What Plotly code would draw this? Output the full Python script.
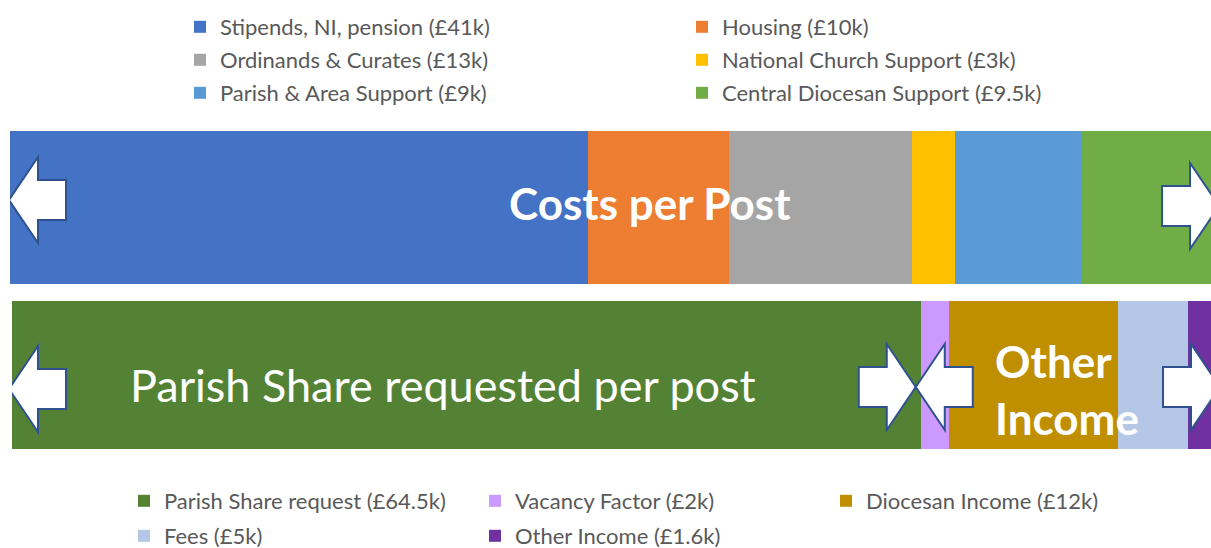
import plotly.graph_objects as go

# ---------------- data ----------------
cost_labels = ["Stipends, NI, pension (£41k)", "Housing (£10k)",
               "Ordinands & Curates (£13k)", "National Church Support (£3k)",
               "Parish & Area Support (£9k)", "Central Diocesan Support (£9.5k)"]
cost_values = [41, 10, 13, 3, 9, 9.5]
cost_colors = ["#4472C4", "#ED7D31", "#A5A5A5", "#FFC000", "#5B9BD5", "#70AD47"]
cost_legends = ["legend", "legend", "legend2", "legend2", "legend3", "legend3"]

income_labels = ["Parish Share request (£64.5k)", "Vacancy Factor (£2k)",
                 "Diocesan Income (£12k)", "Fees (£5k)", "Other Income (£1.6k)"]
income_values = [64.5, 2, 12, 5, 1.6]
income_colors = ["#548235", "#CC99FF", "#BF8F00", "#B4C7E7", "#7030A0"]
income_legends = ["legend4", "legend4", "legend4", "legend5", "legend5"]

FONT = "Lato"
W, H = 1211, 548
ML = 10
PW = W - ML

fig = go.Figure()
for lab, val, col, lg in zip(cost_labels, cost_values, cost_colors, cost_legends):
    fig.add_trace(go.Bar(y=["costs"], x=[val], name=lab, orientation="h",
                         marker=dict(color=col, line=dict(width=0)),
                         xaxis="x", yaxis="y", legend=lg))
for lab, val, col, lg in zip(income_labels, income_values, income_colors, income_legends):
    fig.add_trace(go.Bar(y=["income"], x=[val], name=lab, orientation="h",
                         marker=dict(color=col, line=dict(width=0)),
                         xaxis="x2", yaxis="y2", legend=lg))

scale = 14.1  # px per £k
ax = dict(visible=False, showgrid=False, zeroline=False, fixedrange=True)


def ydom(top_px, bot_px):
    return [1 - bot_px / H, 1 - top_px / H]


# ---------- arrows (decorative) ----------
def arrow_path(tipx, tipy, direction, head=29, length=57, hh=43, sh=20):
    d = direction
    pts = [(tipx, tipy),
           (tipx + d * head, tipy + hh),
           (tipx + d * head, tipy + sh),
           (tipx + d * length, tipy + sh),
           (tipx + d * length, tipy - sh),
           (tipx + d * head, tipy - sh),
           (tipx + d * head, tipy - hh)]
    return "M" + " L".join(f"{x},{y}" for x, y in pts) + " Z"


cost_total = sum(cost_values)
inc_total = sum(income_values)
arrows = [
    ("x", "y", 0, arrow_path(-1, 7.5, 1)),
    ("x", "y", cost_total, arrow_path(3.5, 1.5, -1)),
    ("x2", "y2", 0, arrow_path(-3, -14, 1)),
    ("x2", "y2", income_values[0], arrow_path(-5, -12, -1)),
    ("x2", "y2", income_values[0], arrow_path(-5, -12, 1)),
    ("x2", "y2", inc_total, arrow_path(9, -12, -1)),
]
shapes = []
for xr, yr, xa, p in arrows:
    shapes.append(dict(type="path", xref=xr, yref=yr, xsizemode="pixel",
                       ysizemode="pixel", xanchor=xa, yanchor=0, path=p,
                       fillcolor="white", line=dict(color="#2F528F", width=2),
                       layer="above"))

annotations = [
    dict(text="<b>Costs per Post</b>", xref="x", yref="y", x=45.4, y=0,
         showarrow=False, font=dict(family=FONT, size=44, color="white"),
         xanchor="center", yanchor="middle", yshift=4),
    dict(text="Parish Share requested per post", xref="x2", yref="y2", x=30.6, y=0,
         showarrow=False, font=dict(family=FONT, size=45, color="white"),
         xanchor="center", yanchor="middle", yshift=-10),
    dict(text="<b>Other<br>Income</b>", xref="x2", yref="y2", x=69.6, y=0,
         showarrow=False, font=dict(family=FONT, size=44, color="white"),
         xanchor="left", yanchor="middle", align="left", yshift=-14),
]


def legend(xpx, ypx, entry):
    return dict(orientation="h", x=(xpx - ML) / PW, y=1 - ypx / H,
                xanchor="left", yanchor="middle", bgcolor="rgba(0,0,0,0)",
                font=dict(family=FONT, size=22, color="#595959"),
                entrywidth=entry, entrywidthmode="pixels", itemclick=False,
                itemdoubleclick=False, traceorder="normal")


fig.update_layout(
    width=W, height=H,
    margin=dict(l=ML, r=0, t=0, b=0, pad=0, autoexpand=False),
    paper_bgcolor="white", plot_bgcolor="white",
    barmode="stack", bargap=0,
    showlegend=True,
    xaxis=dict(ax, domain=[0, 1], range=[0, PW / scale], anchor="y"),
    yaxis=dict(ax, domain=ydom(131, 284), range=[-0.5, 0.5], anchor="x"),
    xaxis2=dict(ax, domain=[2 / PW, 1], range=[0, inc_total], anchor="y2"),
    yaxis2=dict(ax, domain=ydom(301, 449), range=[-0.5, 0.5], anchor="x2"),
    legend=legend(180, 27, 457),
    legend2=legend(180, 60, 457),
    legend3=legend(180, 93, 457),
    legend4=legend(124, 501, 306),
    legend5=legend(124, 536, 306),
    shapes=shapes,
    annotations=annotations,
    font=dict(family=FONT),
)

post = (
    "document.documentElement.style.margin='0';"
    "document.documentElement.style.overflow='hidden';"
    "document.body.style.margin='0';"
    "document.body.style.overflow='hidden';"
    "var gd=document.getElementById('{plot_id}');"
    "gd.parentElement.style.height='548px';"
    "gd.parentElement.style.overflow='hidden';"
    "document.querySelectorAll('.svg-container').forEach(function(e){e.style.display='block';});"
)

fig.write_html("out.html", config={"displayModeBar": False}, post_script=post)
